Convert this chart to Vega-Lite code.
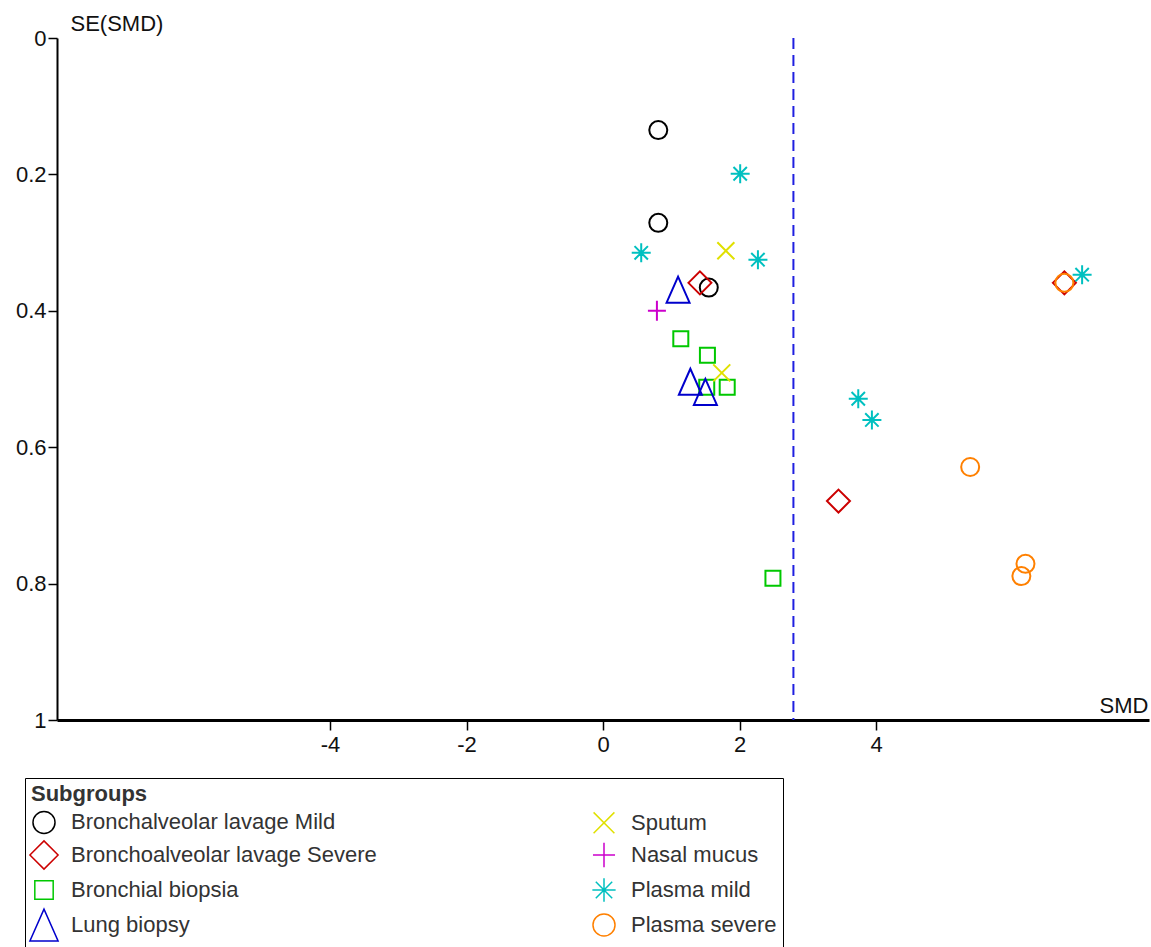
{
  "$schema": "https://vega.github.io/schema/vega-lite/v6.json",
  "width": 1092,
  "height": 682,
  "autosize": {"type": "none"},
  "padding": {"left": 57, "top": 38, "right": 2, "bottom": 227},
  "background": "white",
  "config": {
    "view": {"stroke": null},
    "font": "Liberation Sans",
    "axis": {"grid": false, "labelFont": "Liberation Sans", "titleFont": "Liberation Sans", "labelColor": "#111", "titleColor": "#111", "domainColor": "black", "tickColor": "black"}
  },
  "layer": [
    {
      "data": {"values": [
        {"group": "Bronchalveolar lavage Mild", "smd": 0.81, "se": 0.135},
        {"group": "Bronchalveolar lavage Mild", "smd": 0.81, "se": 0.271},
        {"group": "Bronchalveolar lavage Mild", "smd": 1.55, "se": 0.366},
        {"group": "Bronchoalveolar lavage Severe", "smd": 1.42, "se": 0.359},
        {"group": "Bronchoalveolar lavage Severe", "smd": 3.45, "se": 0.679},
        {"group": "Bronchoalveolar lavage Severe", "smd": 6.76, "se": 0.359},
        {"group": "Bronchial biopsia", "smd": 1.14, "se": 0.441},
        {"group": "Bronchial biopsia", "smd": 1.53, "se": 0.465},
        {"group": "Bronchial biopsia", "smd": 1.52, "se": 0.512},
        {"group": "Bronchial biopsia", "smd": 1.82, "se": 0.512},
        {"group": "Bronchial biopsia", "smd": 2.49, "se": 0.792},
        {"group": "Lung biopsy", "smd": 1.10, "se": 0.369},
        {"group": "Lung biopsy", "smd": 1.28, "se": 0.504},
        {"group": "Lung biopsy", "smd": 1.50, "se": 0.519},
        {"group": "Sputum", "smd": 1.80, "se": 0.312},
        {"group": "Sputum", "smd": 1.74, "se": 0.491},
        {"group": "Nasal mucus", "smd": 0.79, "se": 0.400},
        {"group": "Plasma mild", "smd": 2.01, "se": 0.199},
        {"group": "Plasma mild", "smd": 0.56, "se": 0.315},
        {"group": "Plasma mild", "smd": 2.27, "se": 0.325},
        {"group": "Plasma mild", "smd": 3.74, "se": 0.529},
        {"group": "Plasma mild", "smd": 3.94, "se": 0.560},
        {"group": "Plasma mild", "smd": 7.02, "se": 0.347},
        {"group": "Plasma severe", "smd": 5.38, "se": 0.629},
        {"group": "Plasma severe", "smd": 6.19, "se": 0.771},
        {"group": "Plasma severe", "smd": 6.13, "se": 0.789},
        {"group": "Plasma severe", "smd": 6.76, "se": 0.359}
      ]},
      "mark": {"type": "point", "filled": false, "strokeWidth": 2, "size": 400, "opacity": 1},
      "encoding": {
        "x": {
          "field": "smd", "type": "quantitative", "title": "SMD",
          "scale": {"domain": [-8, 8], "nice": false, "zero": false},
          "axis": {
            "values": [-4, -2, 0, 2, 4], "labelExpr": "datum.value + ''",
            "labelFontSize": 22, "titleFontSize": 22, "titleFontWeight": "normal",
            "domainWidth": 3, "tickWidth": 1.5, "tickSize": 10, "labelPadding": 4,
            "titleX": 1091, "titleY": -8, "titleAlign": "right", "titleBaseline": "alphabetic", "titleAnchor": null
          }
        },
        "y": {
          "field": "se", "type": "quantitative", "title": "SE(SMD)",
          "scale": {"domain": [0, 1], "reverse": true, "nice": false, "zero": false},
          "axis": {
            "values": [0, 0.2, 0.4, 0.6, 0.8, 1], "format": "~f",
            "labelFontSize": 22, "titleFontSize": 22, "titleFontWeight": "normal",
            "domainWidth": 2, "tickWidth": 1.5, "tickSize": 9, "labelPadding": 2,
            "titleAngle": 0, "titleX": 13, "titleY": -8, "titleAlign": "left", "titleBaseline": "alphabetic", "titleAnchor": null
          }
        },
        "color": {
          "field": "group", "type": "nominal",
          "scale": {
            "domain": ["Bronchalveolar lavage Mild", "Bronchoalveolar lavage Severe", "Bronchial biopsia", "Lung biopsy", "Sputum", "Nasal mucus", "Plasma mild", "Plasma severe"],
            "range": ["#000000", "#cc0000", "#00c800", "#0000cc", "#e0e000", "#cc00cc", "#00c0c0", "#ff8000"]
          },
          "legend": {
            "title": "Subgroups",
            "orient": "none", "legendX": -32, "legendY": 740,
            "columns": 2, "gridAlign": "all", "strokeColor": "black", "padding": 6,
            "columnPadding": 212, "rowPadding": -3, "labelOffset": 14, "titlePadding": 1,
            "symbolSize": 600, "symbolStrokeWidth": 1.5, "labelLimit": 500,
            "labelFontSize": 22, "labelColor": "#333", "titleFontSize": 22, "titleFontWeight": "bold", "titleColor": "#333",
            "labelFont": "Liberation Sans", "titleFont": "Liberation Sans"
          }
        },
        "shape": {
          "field": "group", "type": "nominal",
          "scale": {
            "domain": ["Bronchalveolar lavage Mild", "Bronchoalveolar lavage Severe", "Bronchial biopsia", "Lung biopsy", "Sputum", "Nasal mucus", "Plasma mild", "Plasma severe"],
            "range": [
              "M0.9,0 A0.9,0.9 0 1 1 -0.9,0 A0.9,0.9 0 1 1 0.9,0 Z",
              "M-1.15,0L0,-1.15L1.15,0L0,1.15Z",
              "M-0.75,-0.75L0.75,-0.75L0.75,0.75L-0.75,0.75Z",
              "M0,-1.3L-1.15,1.3L1.15,1.3Z",
              "M-0.85,-0.85L0.85,0.85M-0.85,0.85L0.85,-0.85",
              "M-0.9,0L0.9,0M0,-1L0,1",
              "M-0.95,0L0.95,0M0,-0.95L0,0.95M-0.67,-0.67L0.67,0.67M-0.67,0.67L0.67,-0.67",
              "M0.9,0 A0.9,0.9 0 1 1 -0.9,0 A0.9,0.9 0 1 1 0.9,0 Z"
            ]
          }
        }
      }
    },
    {
      "data": {"values": [{"pooled": 2.79}]},
      "mark": {"type": "rule", "color": "#1f1fe0", "strokeWidth": 2, "strokeDash": [11, 6]},
      "encoding": {"x": {"field": "pooled", "type": "quantitative"}}
    }
  ]
}
